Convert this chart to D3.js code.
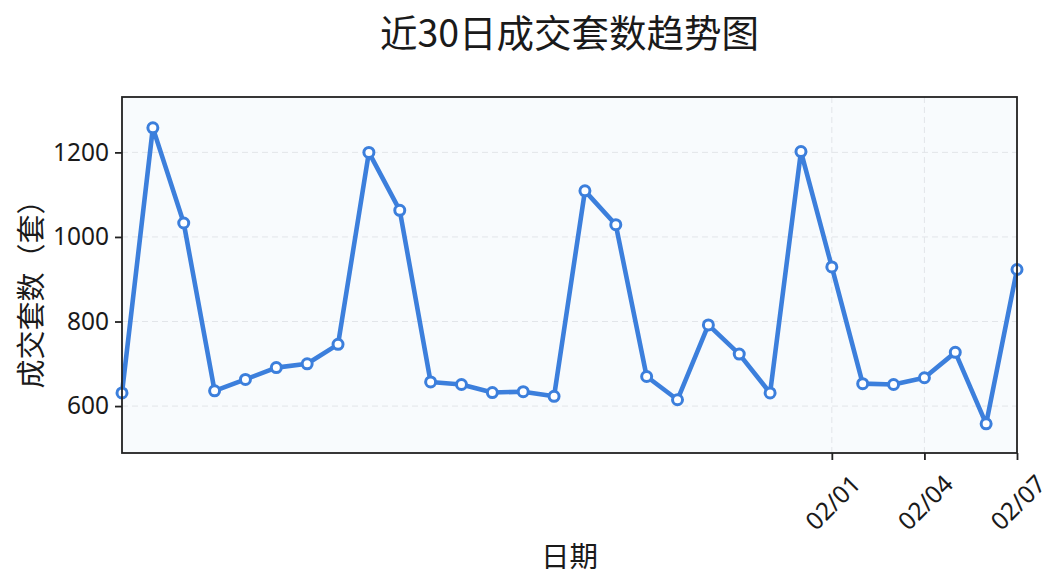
<!DOCTYPE html>
<html>
<head>
<meta charset="utf-8">
<script src="https://cdn.jsdelivr.net/npm/d3@7"></script>
<style>
  body { margin: 0; background: #fff; }
  svg text { fill: #1a1a1a; }
</style>
</head>
<body>
<script>
const width = 1064;
const height = 585;

const dates = [
  "2025-01-09", "2025-01-10", "2025-01-11", "2025-01-12", "2025-01-13",
  "2025-01-14", "2025-01-15", "2025-01-16", "2025-01-17", "2025-01-18",
  "2025-01-19", "2025-01-20", "2025-01-21", "2025-01-22", "2025-01-23",
  "2025-01-24", "2025-01-25", "2025-01-26", "2025-01-27", "2025-01-28",
  "2025-01-29", "2025-01-30", "2025-01-31", "2025-02-01", "2025-02-02",
  "2025-02-03", "2025-02-04", "2025-02-05", "2025-02-06", "2025-02-07"
];
const counts = [
  631, 1258, 1033, 636, 663, 691, 700, 746, 1200, 1063,
  657, 651, 632, 634, 623, 1109, 1029, 670, 615, 792,
  723, 631, 1202, 929, 653, 651, 667, 727, 558, 923
];
const xTickDates = ["2025-02-01", "2025-02-04", "2025-02-07"];
const yTicks = [600, 800, 1000, 1200];
const yDomain = [489, 1331];

const margin = { top: 97, right: 47, bottom: 132, left: 122 };
const innerW = width - margin.left - margin.right;
const innerH = height - margin.top - margin.bottom;

const parse = d3.timeParse("%Y-%m-%d");
const fmt = d3.timeFormat("%m/%d");
const data = dates.map((d, i) => ({ date: parse(d), value: counts[i] }));

const latin = "'Noto Sans', 'Noto Sans CJK SC', sans-serif";
const cjk = "'Noto Sans CJK SC', 'Noto Sans', sans-serif";

const svg = d3.select("body").append("svg")
  .attr("width", width)
  .attr("height", height);

const x = d3.scaleTime()
  .domain(d3.extent(data, (d) => d.date))
  .range([0, innerW]);

const y = d3.scaleLinear()
  .domain(yDomain)
  .range([innerH, 0]);

const g = svg.append("g")
  .attr("transform", `translate(${margin.left},${margin.top})`);

g.append("rect")
  .attr("width", innerW)
  .attr("height", innerH)
  .attr("fill", "#f8fbfd");

// grid
g.append("g")
  .selectAll("line")
  .data(yTicks)
  .join("line")
  .attr("x1", 0)
  .attr("x2", innerW)
  .attr("y1", (d) => y(d))
  .attr("y2", (d) => y(d))
  .attr("stroke", "#e2e5e9")
  .attr("stroke-width", 1)
  .attr("stroke-dasharray", "6,4");

g.append("g")
  .selectAll("line")
  .data(xTickDates.map(parse))
  .join("line")
  .attr("x1", (d) => x(d))
  .attr("x2", (d) => x(d))
  .attr("y1", 0)
  .attr("y2", innerH)
  .attr("stroke", "#e2e5e9")
  .attr("stroke-width", 1)
  .attr("stroke-dasharray", "6,4");

// axes
const xAxis = g.append("g")
  .attr("transform", `translate(0,${innerH})`)
  .call(d3.axisBottom(x)
    .tickValues(xTickDates.map(parse))
    .tickFormat(fmt)
    .tickSize(7)
    .tickPadding(4));
xAxis.select(".domain").remove();
xAxis.selectAll(".tick line").attr("stroke", "#222").attr("stroke-width", 1.8);
xAxis.selectAll(".tick text")
  .attr("font-family", latin)
  .attr("font-size", 24.5)
  .attr("text-anchor", "middle")
  .attr("dominant-baseline", "central")
  .attr("y", 0)
  .attr("dy", null)
  .attr("transform", "translate(0,49) rotate(-45)");

const yAxis = g.append("g")
  .call(d3.axisLeft(y)
    .tickValues(yTicks)
    .tickFormat(d3.format("d"))
    .tickSize(7)
    .tickPadding(6));
yAxis.select(".domain").remove();
yAxis.selectAll(".tick line").attr("stroke", "#222").attr("stroke-width", 1.8);
yAxis.selectAll(".tick text")
  .attr("font-family", latin)
  .attr("font-size", 24.5);

// line + markers
const line = d3.line()
  .x((d) => x(d.date))
  .y((d) => y(d.value));

const marks = g.append("g");

marks.append("path")
  .datum(data)
  .attr("fill", "none")
  .attr("stroke", "#3c7fdc")
  .attr("stroke-width", 4.6)
  .attr("stroke-linejoin", "round")
  .attr("d", line);

marks.selectAll("circle")
  .data(data)
  .join("circle")
  .attr("cx", (d) => x(d.date))
  .attr("cy", (d) => y(d.value))
  .attr("r", 5)
  .attr("fill", "#fff")
  .attr("stroke", "#3c7fdc")
  .attr("stroke-width", 3);

// frame
g.append("rect")
  .attr("width", innerW)
  .attr("height", innerH)
  .attr("fill", "none")
  .attr("stroke", "#222")
  .attr("stroke-width", 1.8);

// texts
svg.append("text")
  .text("近30日成交套数趋势图")
  .attr("x", margin.left + innerW / 2)
  .attr("y", 47)
  .attr("text-anchor", "middle")
  .attr("font-family", cjk)
  .attr("font-size", 37.5);

svg.append("text")
  .text("日期")
  .attr("x", margin.left + innerW / 2)
  .attr("y", 567)
  .attr("text-anchor", "middle")
  .attr("font-family", cjk)
  .attr("font-size", 28.5);

svg.append("text")
  .text("成交套数（套）")
  .attr("transform", "translate(29,287) rotate(-90)")
  .attr("text-anchor", "middle")
  .attr("dominant-baseline", "central")
  .attr("font-family", cjk)
  .attr("font-size", 29);
</script>
</body>
</html>
